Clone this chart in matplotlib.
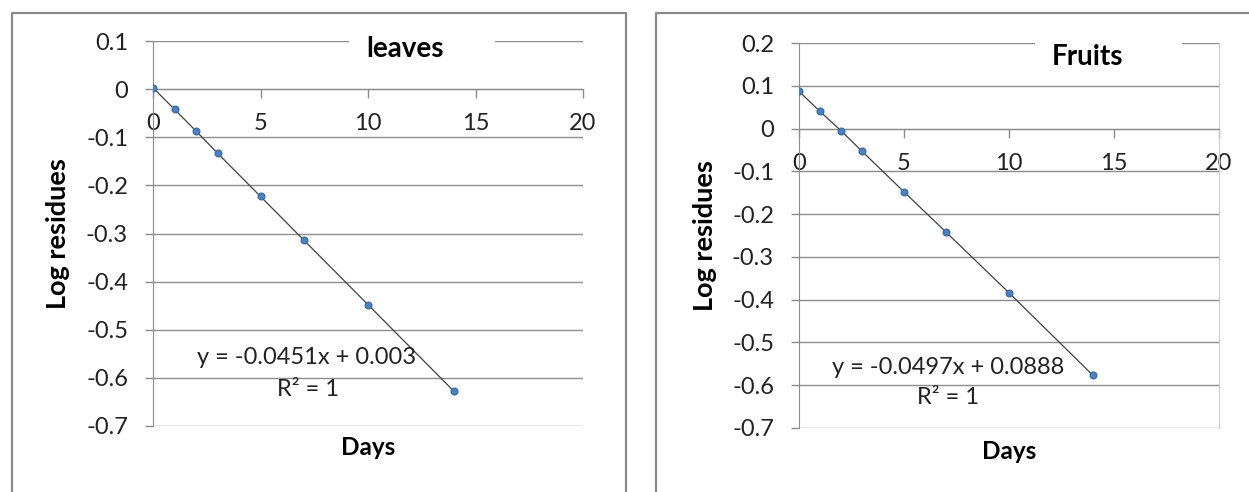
import numpy as np
import matplotlib.pyplot as plt
from matplotlib.patches import Rectangle
from matplotlib.lines import Line2D

plt.rcParams['font.family'] = ['Lato', 'DejaVu Sans']
plt.rcParams['axes.unicode_minus'] = False

# data
days = [0, 1, 2, 3, 5, 7, 10, 14]
leaves = [0.003, -0.042, -0.087, -0.133, -0.223, -0.313, -0.448, -0.628]
fruits = [0.087, 0.040, -0.005, -0.053, -0.148, -0.242, -0.384, -0.577]

xticks = [0, 5, 10, 15, 20]
yticks_leaves = [0.1, 0, -0.1, -0.2, -0.3, -0.4, -0.5, -0.6, -0.7]
yticks_fruits = [0.2, 0.1, 0, -0.1, -0.2, -0.3, -0.4, -0.5, -0.6, -0.7]

eq_leaves = 'y = -0.0451x + 0.003'
eq_fruits = 'y = -0.0497x + 0.0888'
r2_text = 'R² = 1'

W, H = 1249, 492
grid_col = '#8c8c8c'
tama = 17

fig = plt.figure(figsize=(W / 100, H / 100), dpi=100)


def px_axes(x0, x1, ytop, ybot):
    return fig.add_axes([x0 / W, (H - ybot) / H, (x1 - x0) / W, (ybot - ytop) / H])


def style(ax, yt, right_border=False):
    ax.set_xlim(0, 20)
    ax.set_ylim(min(yt), max(yt))
    ax.set_yticks(yt)
    ax.set_yticklabels(['%g' % v for v in yt])
    ax.set_xticks(xticks)
    ax.set_xticklabels([str(v) for v in xticks])
    ax.yaxis.grid(True, color=grid_col, linewidth=1.0)
    ax.set_axisbelow(True)
    ax.spines['top'].set_visible(False)
    ax.spines['right'].set_visible(right_border)
    ax.spines['right'].set_color('#cccccc')
    ax.spines['left'].set_color(grid_col)
    ax.spines['bottom'].set_color(grid_col)
    ax.spines['bottom'].set_position(('data', 0))
    ax.tick_params(axis='y', length=6, width=1, color=grid_col, pad=12,
                   labelsize=tama, labelcolor='#222222')
    ax.tick_params(axis='x', length=6.5, width=1, color=grid_col, pad=11,
                   labelsize=tama, labelcolor='#222222')


def series(ax, y):
    ax.plot(days, y, color='#404040', linewidth=0.9, zorder=3)
    ax.plot(days, y, linestyle='none', marker='o', markersize=4.8,
            markerfacecolor='#4f81bd', markeredgecolor='#3d6ea8', zorder=4)


###leaves
ax1 = px_axes(153, 583, 41, 426)
style(ax1, yticks_leaves)
series(ax1, leaves)
ax1.add_patch(Rectangle((0.456, 0.95), 0.339, 0.1, transform=ax1.transAxes,
                        facecolor='white', edgecolor='none', zorder=2, clip_on=False))
ax1.text(0.586, 0.979, 'leaves', transform=ax1.transAxes, ha='center', va='center',
         fontsize=20, fontweight='bold', zorder=5)
ax1.text(0.358, 0.179, eq_leaves, transform=ax1.transAxes, ha='center', va='center',
         fontsize=tama, color='#222222', zorder=5)
ax1.text(0.36, 0.094, r2_text, transform=ax1.transAxes, ha='center', va='center',
         fontsize=tama, color='#222222', zorder=5)
ax1.text(0.5, -0.057, 'Days', transform=ax1.transAxes, ha='center', va='center',
         fontsize=17.5, fontweight='bold')
ax1.set_ylabel('Log residues', fontsize=19.5, fontweight='bold')
ax1.yaxis.set_label_coords(-0.193, 0.5)

###fruits
ax2 = px_axes(799, 1219, 43, 428)
style(ax2, yticks_fruits, right_border=True)
series(ax2, fruits)
ax2.add_patch(Rectangle((0.562, 0.95), 0.35, 0.1, transform=ax2.transAxes,
                        facecolor='white', edgecolor='none', zorder=2, clip_on=False))
ax2.text(0.688, 0.964, 'Fruits', transform=ax2.transAxes, ha='center', va='center',
         fontsize=20, fontweight='bold', zorder=5)
ax2.text(0.355, 0.158, eq_fruits, transform=ax2.transAxes, ha='center', va='center',
         fontsize=tama, color='#222222', zorder=5)
ax2.text(0.355, 0.078, r2_text, transform=ax2.transAxes, ha='center', va='center',
         fontsize=tama, color='#222222', zorder=5)
ax2.text(0.5, -0.062, 'Days', transform=ax2.transAxes, ha='center', va='center',
         fontsize=17.5, fontweight='bold')
ax2.set_ylabel('Log residues', fontsize=19.5, fontweight='bold')
ax2.yaxis.set_label_coords(-0.195, 0.5)

# outer chart frames
frame = dict(color='#8a8a8a', linewidth=1.6, transform=fig.transFigure)
fig.add_artist(Line2D([12 / W, 12 / W, 626 / W, 626 / W], [0, 1 - 13 / H, 1 - 13 / H, 0], **frame))
fig.add_artist(Line2D([656 / W, 656 / W, 1], [0, 1 - 13 / H, 1 - 13 / H], **frame))

fig.savefig('out.png', dpi=100)
